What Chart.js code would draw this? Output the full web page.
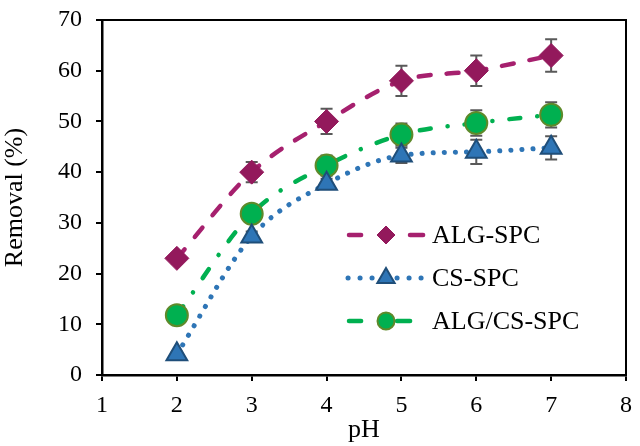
<!DOCTYPE html>
<html>
<head>
<meta charset="utf-8">
<script src="https://cdn.jsdelivr.net/npm/chart.js@4.4.1/dist/chart.umd.min.js"></script>
<style>
  html, body { margin: 0; padding: 0; background: #fff; }
</style>
</head>
<body>
<canvas id="chartCanvas" width="640" height="446"></canvas>
<script>
/********** DATA **********/
const phValues = [2, 3, 4, 5, 6, 7];
const algSpc = [23, 40, 50, 58, 60, 63];
const algSpcErr = [1, 2, 2.5, 3, 3, 3.2];
const csSpc = [4.1, 27.3, 37.7, 43.3, 44, 44.8];
const csSpcErr = [0.5, 1, 1, 1.5, 2.4, 2.3];
const mixSpc = [11.8, 31.8, 41.3, 47.4, 49.7, 51.3];
const mixSpcErr = [0.8, 1, 2, 2.2, 2.5, 2.5];
const seriesNames = ["ALG-SPC", "CS-SPC", "ALG/CS-SPC"];
const xTicks = [1, 2, 3, 4, 5, 6, 7, 8];
const yTicks = [0, 10, 20, 30, 40, 50, 60, 70];

const serif = "'Liberation Serif', 'Times New Roman', serif";

function toPoints(values) {
  return phValues.map((x, i) => ({ x: x, y: values[i] }));
}

const datasets = [
  {
    label: seriesNames[0], data: toPoints(algSpc), errors: algSpcErr,
    borderColor: "#A6206E", borderWidth: 4.5, borderDash: [12, 16], borderCapStyle: "round",
    pointStyle: "rectRot", pointRadius: 12, pointBackgroundColor: "#93195C",
    pointBorderColor: "#93195C", pointBorderWidth: 1, cubicInterpolationMode: "monotone",
    legendRadius: 9, legendSegs: [[349, 361], [410, 423]]
  },
  {
    label: seriesNames[1], data: toPoints(csSpc), errors: csSpcErr,
    borderColor: "#2E75B6", borderWidth: 5, borderDash: [0.1, 11], borderCapStyle: "round",
    pointStyle: "triangle", pointRadius: 12, pointBackgroundColor: "#2E75B6",
    pointBorderColor: "#1F4E79", pointBorderWidth: 2, cubicInterpolationMode: "monotone",
    legendRadius: 10, legendSegs: [[348, 348], [360, 360], [372, 372], [397, 397], [409, 409], [421, 421]]
  },
  {
    label: seriesNames[2], data: toPoints(mixSpc), errors: mixSpcErr,
    borderColor: "#00B050", borderWidth: 4.5, borderDash: [11, 17, 0.1, 17], borderCapStyle: "round",
    pointStyle: "circle", pointRadius: 11, pointBackgroundColor: "#00B050",
    pointBorderColor: "#5E8A2A", pointBorderWidth: 2, cubicInterpolationMode: "monotone",
    legendRadius: 8.5, legendSegs: [[349, 361], [397, 410]]
  }
];

/********** PLUGINS **********/
// error bars behind the markers
const errorBars = {
  id: "errorBars",
  beforeDatasetsDraw(chart) {
    const ctx = chart.ctx;
    const xs = chart.scales.x, ys = chart.scales.y;
    ctx.save();
    ctx.strokeStyle = "#595959";
    ctx.lineWidth = 2;
    chart.data.datasets.forEach(ds => {
      ds.data.forEach((p, i) => {
        const e = ds.errors[i];
        const px = xs.getPixelForValue(p.x);
        const top = ys.getPixelForValue(p.y + e);
        const bot = ys.getPixelForValue(p.y - e);
        ctx.beginPath();
        ctx.moveTo(px, top); ctx.lineTo(px, bot);
        ctx.moveTo(px - 6, top); ctx.lineTo(px + 6, top);
        ctx.moveTo(px - 6, bot); ctx.lineTo(px + 6, bot);
        ctx.stroke();
      });
    });
    ctx.restore();
  }
};

// box round the plot area and the line+marker legend
const frameAndLegend = {
  id: "frameAndLegend",
  afterDraw(chart) {
    const ctx = chart.ctx;
    const a = chart.chartArea;
    ctx.save();
    ctx.strokeStyle = "#000";
    ctx.lineWidth = 2;
    ctx.strokeRect(a.left, a.top, a.right - a.left, a.bottom - a.top);

    const rows = [235, 278, 321];
    chart.data.datasets.forEach((ds, i) => {
      const y = rows[i];
      ctx.save();
      ctx.strokeStyle = ds.borderColor;
      ctx.lineWidth = ds.borderWidth;
      ctx.lineCap = "round";
      ds.legendSegs.forEach(seg => {
        ctx.beginPath();
        ctx.moveTo(seg[0], y); ctx.lineTo(seg[1] + 0.1, y);
        ctx.stroke();
      });
      ctx.restore();
      ctx.fillStyle = ds.pointBackgroundColor;
      ctx.strokeStyle = ds.pointBorderColor;
      ctx.lineWidth = ds.pointBorderWidth;
      Chart.helpers.drawPoint(ctx, {
        pointStyle: ds.pointStyle, radius: ds.legendRadius, borderWidth: ds.pointBorderWidth, rotation: 0
      }, 386, y);
      ctx.fillStyle = "#000";
      ctx.font = "26px " + serif;
      ctx.textBaseline = "middle";
      ctx.fillText(ds.label, 432, y + 1);
    });
    ctx.restore();
  }
};

/********** CHART **********/
new Chart(document.getElementById("chartCanvas").getContext("2d"), {
  type: "line",
  data: { datasets: datasets },
  plugins: [errorBars, frameAndLegend],
  options: {
    responsive: false,
    animation: false,
    layout: { padding: { top: 20, right: 10, left: 0, bottom: 0 } },
    plugins: { legend: { display: false }, tooltip: { enabled: false } },
    scales: {
      x: {
        type: "linear", min: 1, max: 8,
        afterFit: s => { s.height = 71; s.paddingLeft = 0; s.paddingRight = 0; },
        afterBuildTicks: s => { s.ticks = xTicks.map(v => ({ value: v })); },
        grid: { drawOnChartArea: false, drawTicks: true, tickLength: 6, color: "#000", lineWidth: 2 },
        border: { color: "#000", width: 2.5 },
        ticks: { color: "#000", font: { family: serif, size: 24 }, padding: 10 },
        title: { display: true, text: "pH", color: "#000", font: { family: serif, size: 26 }, padding: { top: 0, bottom: 0 } }
      },
      y: {
        min: 0, max: 70,
        afterFit: s => { s.width = 102; s.paddingTop = 0; s.paddingBottom = 0; },
        afterBuildTicks: s => { s.ticks = yTicks.map(v => ({ value: v })); },
        grid: { drawOnChartArea: false, drawTicks: true, tickLength: 6, color: "#000", lineWidth: 2 },
        border: { color: "#000", width: 2.5 },
        ticks: { color: "#000", font: { family: serif, size: 24 }, padding: 14 },
        title: { display: true, text: "Removal (%)", color: "#000", font: { family: serif, size: 26 }, padding: { top: 0, bottom: 0 } }
      }
    }
  }
});
</script>
</body>
</html>
